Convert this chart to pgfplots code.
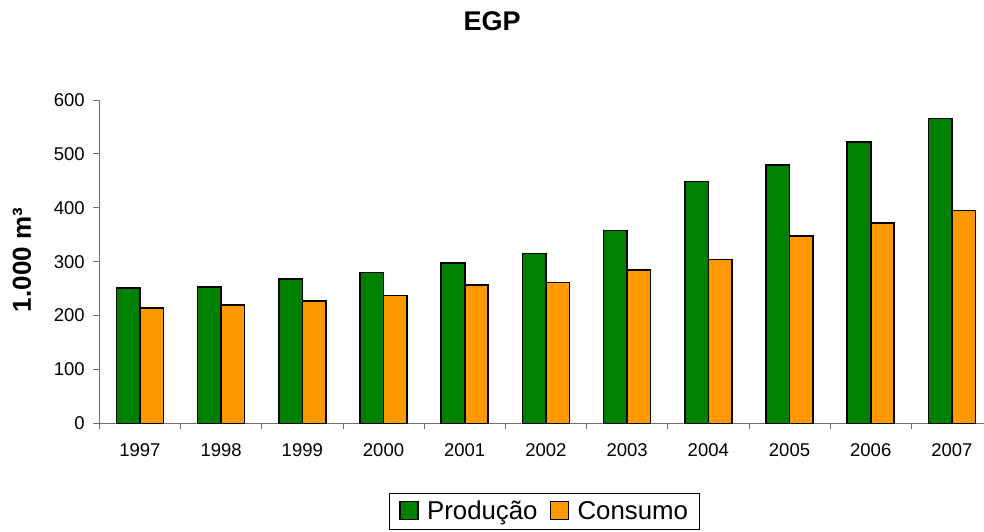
\documentclass[border=0pt]{standalone}
\usepackage{pgfplots}
\pgfplotsset{compat=1.18}
\usepackage{fontspec}
\setmainfont{Liberation Sans}
\definecolor{prodgreen}{RGB}{0,128,0}
\definecolor{consorange}{RGB}{255,153,0}
\definecolor{axgray}{RGB}{110,110,110}
\begin{document}
\begin{tikzpicture}
\path[use as bounding box] (-99.3pt,-107.7pt) rectangle (884.7pt,423.3pt);
\begin{axis}[
  at={(0pt,0pt)}, anchor=south west,
  scale only axis, width=884.7pt, height=323.3pt,
  xmin=-0.5, xmax=10.395, ymin=0, ymax=600,
  axis lines*=left,
  axis line style={draw=axgray, line width=0.8pt},
  every tick/.style={draw=axgray, line width=0.8pt},
  tick align=outside,
  major tick length=6pt,
  ytick={0,100,...,600},
  xtick={-0.5,0.5,...,9.5},
  xticklabels={},
  extra x ticks={0,1,2,3,4,5,6,7,8,9,10},
  extra x tick labels={1997,1998,1999,2000,2001,2002,2003,2004,2005,2006,2007},
  extra x tick style={major tick length=0pt},
  /pgf/number format/assume math mode=true,
  ticklabel style={font=\fontsize{18.5}{20}\selectfont},
  xticklabel style={yshift=-17pt},
  yticklabel style={xshift=-5pt},
  title={EGP},
  title style={at={(axis description cs:0.4439,1.1958)}, anchor=base, font=\fontsize{27}{30}\selectfont\bfseries},
  ylabel={1.000 m³},
  every axis y label/.style={at={(axis description cs:-0.0874,0.505)}, rotate=90, anchor=center, font=\fontsize{26}{28}\selectfont\bfseries},
  ybar=0pt, bar width=0.29,
  legend columns=2,
  legend style={at={(axis description cs:0.5027,-0.2147)}, anchor=north,
    draw=black, line width=0.8pt, font=\fontsize{25.8}{28}\selectfont,
    inner xsep=9pt, inner ysep=6pt,
    /tikz/every even column/.append style={column sep=9pt}},
  legend image code/.code={\draw[#1, draw=black, line width=1.4pt] (2pt,-8.5pt) rectangle (20pt,9.5pt); \path[draw=none, fill=none] (0pt,0pt) -- (27pt,0pt);},
]
\addplot[fill=prodgreen, draw=black, line width=1.6pt, bar shift=-0.145]
  coordinates {(0,251) (1,253) (2,268) (3,280) (4,298) (5,315) (6,358) (7,449) (8,479) (9,522) (10,566)};
\addplot[fill=consorange, draw=black, line width=1.6pt, bar shift=0.145]
  coordinates {(0,214) (1,220) (2,227) (3,237) (4,257) (5,261) (6,284) (7,304) (8,348) (9,372) (10,395)};
\legend{Produção,Consumo}
\end{axis}
\end{tikzpicture}
\end{document}
